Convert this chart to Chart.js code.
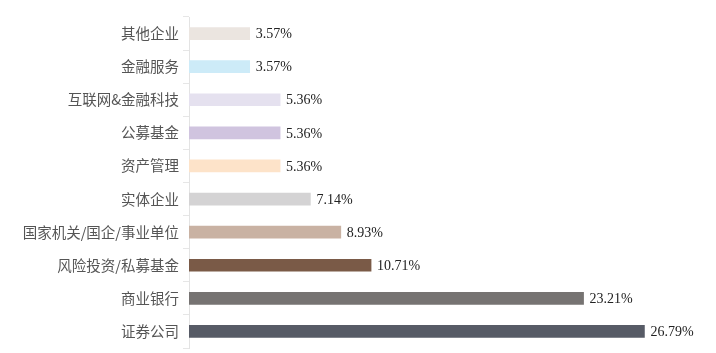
<!DOCTYPE html>
<html>
<head>
<meta charset="utf-8">
<script src="https://cdn.jsdelivr.net/npm/chart.js@4"></script>
<style>
html,body{margin:0;padding:0;background:#fff;}
#wrap{width:716px;height:353px;position:relative;}
</style>
</head>
<body>
<div id="wrap"><canvas id="c" width="716" height="353"></canvas></div>
<script>
const categories = ["其他企业","金融服务","互联网&金融科技","公募基金","资产管理","实体企业","国家机关/国企/事业单位","风险投资/私募基金","商业银行","证券公司"];
const values = [3.57, 3.57, 5.36, 5.36, 5.36, 7.14, 8.93, 10.71, 23.21, 26.79];
const valueLabels = ["3.57%","3.57%","5.36%","5.36%","5.36%","7.14%","8.93%","10.71%","23.21%","26.79%"];
const barColors = ["#ebe5e0","#cdebf8","#e5e1ef","#d0c4df","#fde3c9","#d4d3d4","#c9b2a3","#7a5a47","#767372","#575b66"];

const valueLabelPlugin = {
  id: 'valueLabels',
  afterDatasetsDraw(chart) {
    const ctx = chart.ctx;
    const meta = chart.getDatasetMeta(0);
    ctx.save();
    ctx.font = '14px "Liberation Serif", "DejaVu Serif", serif';
    ctx.fillStyle = '#222222';
    ctx.textAlign = 'left';
    ctx.textBaseline = 'middle';
    meta.data.forEach((bar, i) => {
      ctx.fillText(valueLabels[i], bar.x + 6, bar.y + 1);
    });
    ctx.restore();
  }
};

new Chart(document.getElementById('c'), {
  type: 'bar',
  data: {
    labels: categories,
    datasets: [{
      data: values,
      backgroundColor: barColors,
      borderWidth: 0,
      barThickness: 12
    }]
  },
  options: {
    indexAxis: 'y',
    responsive: false,
    animation: false,
    layout: { padding: { left: 0, right: 17, top: 17, bottom: 5 } },
    plugins: { legend: { display: false }, tooltip: { enabled: false } },
    scales: {
      x: {
        display: false,
        min: 0,
        max: 30
      },
      y: {
        afterFit(scale) {
          scale.width = 189;
          scale.paddingTop = 0;
          scale.paddingBottom = 0;
        },
        grid: {
          display: true,
          drawOnChartArea: false,
          drawTicks: true,
          tickLength: 6,
          color: '#e6e6e6',
          offset: true
        },
        border: { display: true, color: '#e3e3e3', width: 1 },
        ticks: {
          color: '#555555',
          padding: 4,
          font: { family: '"Noto Sans CJK SC", sans-serif', size: 14.5 }
        }
      }
    }
  },
  plugins: [valueLabelPlugin]
});
</script>
</body>
</html>
